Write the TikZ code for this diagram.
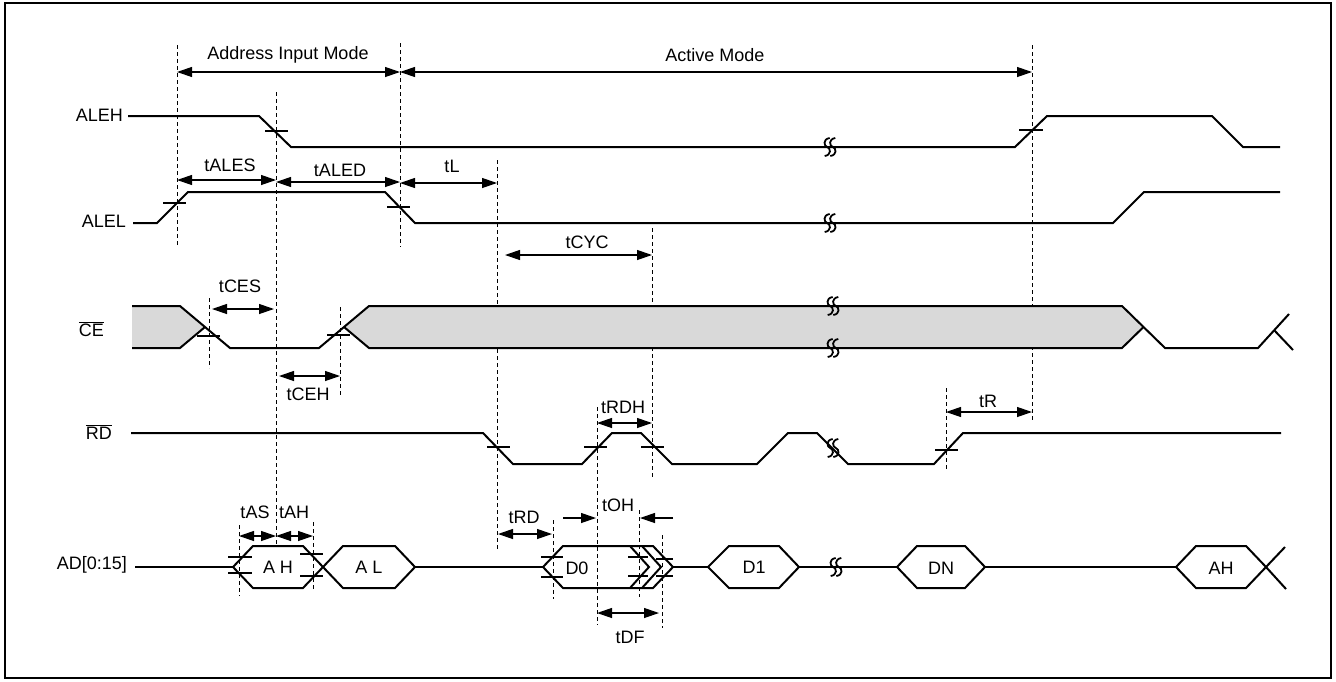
\documentclass[tikz,border=0pt]{standalone}
\usepackage{fontspec}
\setmainfont{Liberation Sans}
\usetikzlibrary{arrows.meta}
\tikzset{
  sig/.style={line width=2pt, line join=miter},
  vd/.style={line width=1pt, dash pattern=on 4pt off 3pt},
  tk/.style={line width=1.2pt},
  dim/.style={line width=1.2pt, {Triangle[length=15pt,width=10pt]}-{Triangle[length=15pt,width=10pt]}},
  dimr/.style={line width=1.2pt, -{Triangle[length=15pt,width=10pt]}},
  lbl/.style={inner sep=0pt, font=\fontsize{18}{21}\selectfont},
  brkline/.style={line width=1.8pt},
  brk/.pic={\foreach \d in {-2.8,2.8}{\draw[brkline] (\d+2.5,-9) .. controls (\d-4.5,-8) and (\d-3.5,-1) .. (\d,0) .. controls (\d+3.5,1) and (\d+4.5,8) .. (\d-2.5,9);}}
}
\begin{document}
\begin{tikzpicture}[x=1pt,y=-1pt]
\useasboundingbox (0,0) rectangle (1336,681);
\draw[line width=2pt] (5,3) rectangle (1331,678);

% signal labels
\node[lbl, anchor=east] (lALEH) at (123,115) {ALEH};
\node[lbl, anchor=east] (lALEL) at (126,221) {ALEL};
\node[lbl, anchor=east] (lCE) at (104,329) {$\overline{\mbox{CE}}$};
\node[lbl, anchor=east] (lRD) at (112,432) {$\overline{\mbox{RD}}$};
\node[lbl, anchor=east] (lAD) at (127,565) {AD[0:15]};

% dashed verticals
\draw[vd] (177,45) -- (177,247);
\draw[vd] (276,92) -- (276,545);
\draw[vd] (400,43) -- (400,247);
\draw[vd] (497,160) -- (497,549);
\draw[vd] (652,228) -- (652,477);
\draw[vd] (1032,45) -- (1032,422);
\draw[vd] (209,298) -- (209,368);
\draw[vd] (340,307) -- (340,397);
\draw[vd] (597,407) -- (597,625);
\draw[vd] (946,388) -- (946,470);
\draw[vd] (239,525) -- (239,596);
\draw[vd] (313,522) -- (313,591);
\draw[vd] (553,520) -- (553,599);
\draw[vd] (639,510) -- (639,597);
\draw[vd] (662,535) -- (662,628);

% mode arrows
\draw[dim] (177,72) -- (400,72);
\node[lbl] (mAddr) at (288,55) {Address Input Mode};
\draw[dim] (400,72) -- (1032,72);
\node[lbl] (mAct) at (715,55) {Active Mode};

% ALEH
\draw[sig] (128,116) -- (259,116) -- (291,147) -- (1015,147) -- (1047,116) -- (1212,116) -- (1243,147) -- (1280,147);
\draw[tk] (265,131) -- (288,131);
\draw[tk] (1019,130) -- (1043,130);
\pic at (830,147) {brk};

% ALEL
\draw[sig] (133,223) -- (157,223) -- (188,192) -- (385,192) -- (415,223) -- (1113,223) -- (1144,192) -- (1280,192);
\draw[tk] (163,203) -- (186,203);
\draw[tk] (387,207) -- (410,207);
\pic at (830,223) {brk};

% timing labels top
\draw[dim] (177,180) -- (276,180);
\node[lbl] (tALES) at (230,165) {tALES};
\draw[dim] (276,182) -- (400,182);
\node[lbl] (tALED) at (340,170) {tALED};
\draw[dim] (400,183) -- (497,183);
\node[lbl] (tL) at (452,166) {tL};
\draw[dim] (505,255) -- (652,255);
\node[lbl] (tCYC) at (587,242) {tCYC};

% CE
\fill[gray!30] (132,306) -- (180,306) -- (205,327) -- (180,348) -- (132,348) -- cycle;
\fill[gray!30] (344,327) -- (369,306) -- (1122,306) -- (1143.5,327) -- (1122,348) -- (369,348) -- cycle;
\draw[sig] (132,306) -- (180,306) -- (230,348) -- (319,348) -- (369,306) -- (1122,306) -- (1165,348) -- (1258,348) -- (1289,314);
\draw[sig] (132,348) -- (180,348) -- (205,327);
\draw[sig] (344,327) -- (369,348) -- (1122,348) -- (1143.5,327);
\draw[sig] (1274,330) -- (1293,350);
\draw[tk] (197,336) -- (220,336);
\draw[tk] (327,335) -- (350,335);
\pic at (833,306) {brk};
\pic at (833,348) {brk};
\draw[dim] (212,309) -- (274,309);
\node[lbl] (tCES) at (240,286) {tCES};
\draw[dim] (279,376) -- (340,376);
\node[lbl] (tCEH) at (308,394) {tCEH};

% RD
\draw[sig] (131,433) -- (483,433) -- (513,464) -- (582,464) -- (612,433) -- (641,433) -- (672,464) -- (757,464) -- (788,433) -- (817,433) -- (848,464) -- (934,464) -- (963,433) -- (1281,433);
\draw[tk] (487,447) -- (510,447);
\draw[tk] (584,447) -- (607,447);
\draw[tk] (641,447) -- (664,447);
\draw[tk] (935,450) -- (958,450);
\pic at (833,448) {brk};
\draw[dim] (597,423) -- (652,423);
\node[lbl] (tRDH) at (623,407) {tRDH};
\draw[dim] (946,412) -- (1032,412);
\node[lbl] (tR) at (988,401) {tR};

% AD
\draw[sig] (135,567) -- (233,567);
\draw[sig] (233,567) -- (253,546) -- (303,546) -- (323,567) -- (303,588) -- (253,588) -- cycle;
\draw[sig] (323,567) -- (343,546) -- (395,546) -- (415,567) -- (395,588) -- (343,588) -- cycle;
\node[lbl] (dAH1) at (278,567) {A H};
\node[lbl] (dAL) at (369,567) {A L};
\draw[sig] (415,567) -- (543,567);
\draw[sig] (543,567) -- (563,546) -- (653,546) -- (673,567) -- (653,588) -- (563,588) -- cycle;
\draw[sig] (630,546) -- (649,567) -- (630,588);
\draw[sig] (642,546) -- (661,567) -- (642,588);
\node[lbl] (dD0) at (577,568) {D0};
\draw[sig] (673,567) -- (708,567);
\draw[sig] (708,567) -- (729,546) -- (779,546) -- (799,567) -- (779,588) -- (729,588) -- cycle;
\node[lbl] (dD1) at (754,567) {D1};
\draw[sig] (799,567) -- (897,567);
\pic at (836,567) {brk};
\draw[sig] (897,567) -- (917,546) -- (965,546) -- (985,567) -- (965,588) -- (917,588) -- cycle;
\node[lbl] (dDN) at (941,568) {DN};
\draw[sig] (985,567) -- (1176,567);
\draw[sig] (1176,567) -- (1196,546) -- (1246,546) -- (1266,567) -- (1246,588) -- (1196,588) -- cycle;
\draw[sig] (1266,567) -- (1285,547);
\draw[sig] (1266,567) -- (1286,589);
\node[lbl] (dAH2) at (1221,568) {AH};

% AD ticks
\draw[tk] (228,557) -- (252,557);
\draw[tk] (228,573) -- (252,573);
\draw[tk] (300,554) -- (323,554);
\draw[tk] (300,576) -- (323,576);
\draw[tk] (541,557) -- (563,557);
\draw[tk] (541,577) -- (563,577);
\draw[tk] (628,557) -- (648,557);
\draw[tk] (628,576) -- (648,576);
\draw[tk] (656,559) -- (673,559);
\draw[tk] (656,576) -- (673,576);

% AD timings
\draw[dim] (239,536) -- (276,536);
\draw[dim] (276,536) -- (313,536);
\node[lbl] (tAS) at (255,512) {tAS};
\node[lbl] (tAH) at (294,512) {tAH};
\draw[dim] (498,534) -- (552,534);
\node[lbl] (tRD) at (524,517) {tRD};
\draw[dimr] (563,518) -- (596,518);
\draw[dimr] (673,518) -- (640,518);
\node[lbl] (tOH) at (618,505) {tOH};
\draw[dim] (597,613) -- (659,613);
\node[lbl] (tDF) at (630,637) {tDF};
\end{tikzpicture}
\end{document}
